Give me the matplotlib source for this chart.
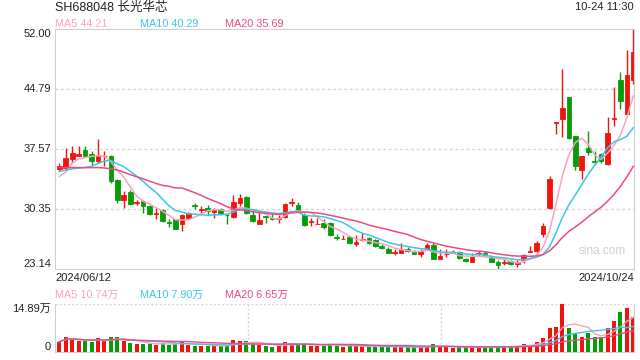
import numpy as np
import pandas as pd
import matplotlib.pyplot as plt

plt.rcParams['font.family'] = ['Liberation Sans', 'Noto Sans CJK SC']

# daily k-line, 2024/06/12 .. 2024/10/24
opens = [35.2, 35.3, 36.4, 36.8, 37.5, 37.0, 36.2, 36.7, 36.8, 33.9,
         31.5, 32.4, 31.1, 31.3, 30.7, 29.8, 30.3, 28.8, 29.1, 28.5,
         29.3, 30.8, 30.3, 30.5, 30.0, 30.4, 29.7, 29.4, 31.1, 31.8,
         29.7, 28.6, 29.5, 29.3, 29.1, 29.4, 31.1, 30.9, 29.7, 28.8,
         28.55, 28.7, 28.7, 27.0, 26.75, 27.0, 26.1, 26.6, 26.9, 26.6,
         25.9, 25.5, 25.1, 25.1, 25.6, 25.3, 24.9, 25.5, 26.0, 24.4,
         24.9, 25.1, 25.2, 24.4, 24.0, 25.0, 25.1, 24.6, 24.0, 23.9,
         24.1, 23.8, 24.2, 25.2, 25.3, 27.4, 30.5, 40.75, 41.2, 43.8,
         39.1, 35.1, 37.7, 36.1, 37.0, 35.8, 41.2, 45.9, 41.8, 45.9]
highs = [35.9, 37.7, 38.0, 38.0, 37.9, 37.4, 38.8, 37.3, 36.9, 34.0,
         32.5, 32.7, 31.5, 31.5, 30.8, 30.5, 30.4, 29.1, 29.2, 29.8,
         30.0, 31.1, 30.7, 30.9, 30.5, 30.5, 29.8, 32.1, 32.2, 31.9,
         30.3, 30.1, 29.5, 29.9, 29.7, 31.1, 31.7, 31.2, 29.9, 29.3,
         29.3, 29.1, 28.8, 27.3, 27.2, 27.1, 27.2, 27.5, 27.0, 26.8,
         26.2, 25.8, 25.5, 26.3, 25.8, 25.4, 25.5, 26.3, 26.3, 25.5,
         25.5, 25.4, 25.3, 24.5, 25.1, 25.3, 25.3, 24.8, 24.2, 24.3,
         24.2, 24.2, 25.0, 25.9, 26.5, 28.7, 34.3, 40.8, 47.2, 43.9,
         39.2, 36.8, 39.7, 37.3, 37.1, 41.4, 45.1, 46.9, 49.5, 52.0]
lows = [34.9, 35.1, 35.9, 36.7, 36.6, 35.7, 35.9, 35.5, 33.5, 31.1,
        30.5, 30.9, 30.8, 29.9, 29.7, 29.1, 28.8, 28.2, 27.9, 27.7,
        29.2, 30.4, 29.9, 29.7, 29.3, 29.8, 28.5, 29.3, 30.7, 29.8,
        28.8, 28.5, 28.7, 29.0, 28.7, 29.3, 30.7, 30.0, 28.3, 28.3,
        28.5, 27.9, 27.1, 26.6, 26.7, 26.2, 25.9, 26.5, 26.2, 25.8,
        25.5, 25.1, 24.8, 25.1, 25.2, 24.9, 24.6, 25.4, 24.3, 24.3,
        24.6, 25.05, 24.3, 24.0, 24.0, 24.7, 24.6, 24.0, 23.14, 23.6,
        23.6, 23.4, 23.9, 25.2, 25.2, 27.0, 30.4, 39.4, 39.0, 38.8,
        35.1, 34.0, 36.9, 35.7, 35.9, 35.7, 40.3, 42.4, 41.7, 45.4]
closes = [35.5, 36.5, 37.1, 37.0, 36.7, 36.2, 36.9, 36.8, 33.7, 31.5,
          32.1, 31.0, 31.2, 30.7, 29.8, 29.9, 28.9, 28.7, 28.0, 29.7,
          29.9, 30.7, 30.4, 30.1, 30.3, 29.9, 29.6, 31.2, 31.7, 29.9,
          28.9, 29.0, 29.4, 29.1, 29.3, 31.0, 31.2, 30.1, 28.4, 28.9,
          28.6, 28.2, 27.2, 26.9, 26.8, 26.3, 26.4, 26.7, 26.3, 25.9,
          25.7, 25.1, 25.2, 25.5, 25.3, 25.0, 25.3, 26.0, 24.4, 24.7,
          25.0, 25.15, 24.5, 24.1, 24.6, 25.1, 24.8, 24.0, 23.6, 24.0,
          23.7, 24.0, 24.8, 25.3, 26.3, 28.3, 34.0, 40.8, 42.5, 38.9,
          35.6, 36.7, 37.2, 36.0, 36.1, 39.5, 41.3, 43.4, 46.5, 49.3]
# volume, unit 万
volumes = [3.2, 4.6, 4.3, 3.5, 3.3, 3.0, 4.4, 3.4, 4.8, 4.5,
           3.3, 2.9, 2.4, 2.6, 2.5, 2.3, 2.8, 2.2, 2.6, 3.1,
           2.3, 2.0, 1.9, 2.0, 1.8, 1.9, 2.1, 3.6, 3.3, 3.4,
           2.6, 2.2, 1.9, 1.7, 1.8, 3.0, 2.6, 2.4, 2.8, 2.0,
           1.9, 2.0, 2.6, 1.8, 1.6, 1.9, 1.8, 1.9, 1.7, 1.8,
           1.5, 1.6, 1.5, 1.8, 1.4, 1.4, 1.5, 2.0, 2.4, 1.6,
           1.5, 1.3, 1.6, 1.4, 1.6, 1.5, 1.4, 1.7, 1.8, 1.6,
           1.9, 2.0, 2.5, 2.3, 3.2, 4.3, 7.5, 7.9, 14.89, 7.5,
           5.6, 4.6, 5.8, 4.5, 4.8, 7.5, 9.5, 12.3, 13.6, 10.8]

# MA values before a full window is available
ma5_head = [34.3, 34.8, 35.9, 36.4]
ma10_head = [34.9, 35.05, 35.2, 35.3, 35.35, 35.5, 35.85, 36.15, 36.2]
ma20_head = [35.35, 35.35, 35.35, 35.35, 35.35, 35.35, 35.35, 35.3, 35.2, 35.05,
             34.8, 34.5, 34.25, 34.0, 33.7, 33.45, 33.2, 33.1, 32.9]

price_ticks = [52.00, 44.79, 37.57, 30.35, 23.14]
title = 'SH688048 长光华芯'
stamp = '10-24 11:30'
date_first, date_last = '2024/06/12', '2024/10/24'
ma_labels = ['MA5 44.21', 'MA10 40.29', 'MA20 35.69']
vol_labels = ['MA5 10.74万', 'MA10 7.90万', 'MA20 6.65万']

RED = '#f0140f'
GREEN = '#079b07'
MA_COLORS = ['#f7a3c2', '#3ec6e2', '#ec4a86']
GRID = '#d6d6d6'
EDGE = '#cfcfcf'

n = len(closes)
x = np.arange(n)
o, h, l, c = map(np.array, (opens, highs, lows, closes))
up = c >= o
cols = np.where(up, RED, GREEN)

s = pd.Series(closes)
ma5 = s.rolling(5).mean().values
ma10 = s.rolling(10).mean().values
ma20 = s.rolling(20).mean().values
ma5[:4] = ma5_head
ma10[:9] = ma10_head
ma20[:19] = ma20_head

vs = pd.Series(volumes)
vma = [vs.rolling(k, min_periods=1).mean().values for k in (5, 10, 20)]

fig = plt.figure(figsize=(6.4, 3.6), dpi=100)
W, H = 640, 360
L, R = 55, 634
ax = fig.add_axes([L / W, 1 - 269 / H, (R - L) / W, (269 - 29.3) / H])
axv = fig.add_axes([L / W, 1 - 352 / H, (R - L) / W, 48 / H])

xlim = (-0.67, 89.1)

# price panel
ax.set_xlim(*xlim)
ax.set_ylim(price_ticks[-1], price_ticks[0])
for lv in price_ticks[1:-1]:
    ax.axhline(lv, color=GRID, lw=1, ls=(0, (2, 2)), zorder=0)
ax.vlines(x, l, h, colors=cols, lw=1, zorder=2)
ax.bar(x, np.abs(c - o), bottom=np.minimum(o, c), width=0.72,
       color=cols, edgecolor=cols, linewidth=0.6, zorder=3)
for ma, col in zip((ma5, ma10, ma20), MA_COLORS):
    ax.plot(x, ma, color=col, lw=1.1, zorder=4)
for sp in ax.spines.values():
    sp.set_color(EDGE)
ax.set_xticks([])
ax.set_yticks([])
for i, lv in enumerate(price_ticks):
    va = 'top' if i == 0 else ('bottom' if i == len(price_ticks) - 1 else 'center')
    ax.text(-0.007, lv, f'{lv:.2f}', transform=ax.get_yaxis_transform(),
            ha='right', va=va, fontsize=8, color='#222222')
ax.text(0.945, 0.075, 'sina.com', transform=ax.transAxes, ha='center',
        va='center', fontsize=8.5, color='#d0d0d0')

# volume panel
axv.set_xlim(*xlim)
axv.set_ylim(0, max(volumes))
axv.bar(x, volumes, width=0.62, color=cols, zorder=3)
for ma, col in zip(vma, MA_COLORS):
    axv.plot(x, ma, color=col, lw=1.0, zorder=4)
axv.axhline(max(volumes), color=GRID, lw=1, ls=(0, (1.5, 1.5)), zorder=0)
for fx in (1 / 3, 2 / 3):
    axv.plot([fx, fx], [0, 1], transform=axv.transAxes, color=GRID,
             lw=1, ls=(0, (1.5, 1.5)), zorder=0)
axv.spines['top'].set_visible(False)
for k in ('left', 'right', 'bottom'):
    axv.spines[k].set_color(EDGE)
axv.set_xticks([])
axv.set_yticks([])
axv.text(-0.007, 1.0, f'{max(volumes):.2f}万', transform=axv.transAxes,
         ha='right', va='top', fontsize=8, color='#222222')
axv.text(-0.007, 0.0, '0', transform=axv.transAxes,
         ha='right', va='bottom', fontsize=8, color='#222222')

# header texts
fig.text(L / W, 1 - 7.5 / H, title, ha='left', va='center', fontsize=9, color='#222222')
fig.text(R / W, 1 - 7.5 / H, stamp, ha='right', va='center', fontsize=8, color='#222222')
for lab, col, px in zip(ma_labels, MA_COLORS, (L, 140, 225)):
    fig.text(px / W, 1 - 24 / H, lab, ha='left', va='center', fontsize=7.8, color=col)
fig.text(L / W, 1 - 278 / H, date_first, ha='left', va='center', fontsize=8, color='#222222')
fig.text(R / W, 1 - 278 / H, date_last, ha='right', va='center', fontsize=8, color='#222222')
for lab, col, px in zip(vol_labels, MA_COLORS, (L, 140, 225)):
    fig.text(px / W, 1 - 295 / H, lab, ha='left', va='center', fontsize=7.8, color=col)

fig.savefig('out.png', dpi=100)
